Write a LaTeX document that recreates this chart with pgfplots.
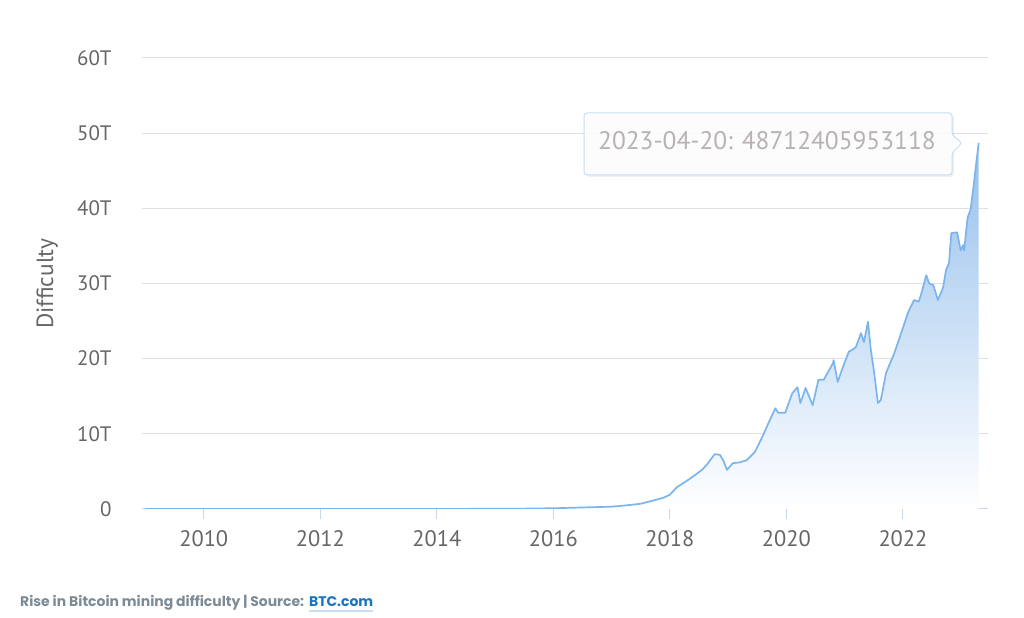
\documentclass[border=0pt]{standalone}
\usepackage{pgfplots}
\usepackage{pgfplotstable}
\pgfplotsset{compat=1.18}
\usepackage{fontspec}
\setmainfont{PT Sans}
\newfontfamily\capfont{Poppins}
\definecolor{lineblue}{HTML}{7CB5EC}
\definecolor{filltop}{HTML}{96C0EC}
\definecolor{gridgray}{HTML}{E0E0E0}
\definecolor{axisblue}{HTML}{CCD6EB}
\definecolor{labelgray}{HTML}{666666}
\definecolor{capgray}{HTML}{7D8B96}
\definecolor{capblue}{HTML}{1E73BE}
\definecolor{ttborder}{HTML}{C8DDF3}
\definecolor{tttext}{HTML}{B8B2B2}

\pgfplotstableread{
year diff
2009.00 0
2010.00 0
2011.00 0.00001
2012.00 0.0000015
2013.00 0.0000034
2013.50 0.00003
2014.00 0.0014
2014.50 0.017
2015.00 0.044
2015.50 0.05
2016.00 0.10
2016.50 0.20
2017.00 0.31
2017.25 0.48
2017.50 0.70
2017.70 1.1
2017.89 1.5
2018.00 1.9
2018.12 2.9
2018.34 4.0
2018.55 5.2
2018.63 5.85
2018.77 7.3
2018.86 7.2
2018.92 6.4
2018.98 5.2
2019.08 6.1
2019.20 6.2
2019.32 6.5
2019.46 7.6
2019.60 9.8
2019.69 11.4
2019.81 13.4
2019.86 12.8
2019.98 12.8
2020.10 15.4
2020.19 16.2
2020.24 14.1
2020.33 16.1
2020.45 13.8
2020.55 17.2
2020.64 17.2
2020.80 19.4
2020.81 19.8
2020.88 16.9
2020.97 18.9
2021.07 20.9
2021.19 21.5
2021.28 23.4
2021.33 22.2
2021.40 24.9
2021.45 21.1
2021.50 18.5
2021.57 14.1
2021.62 14.5
2021.71 18.1
2021.85 20.7
2022.00 24.1
2022.09 26.2
2022.19 27.8
2022.27 27.6
2022.31 28.5
2022.40 31.1
2022.45 30.0
2022.52 29.8
2022.60 27.8
2022.69 29.5
2022.74 31.8
2022.79 32.7
2022.83 36.7
2022.93 36.8
2022.99 34.4
2023.03 35.1
2023.05 34.4
2023.11 38.8
2023.16 39.8
2023.21 42.8
2023.25 45.5
2023.30 48.71
}\difftable

\begin{document}
\begin{tikzpicture}[x=1bp,y=1bp]
\path[use as bounding box, fill=white] (0,0) rectangle (1024,618);
\begin{axis}[
  at={(142bp,109bp)}, anchor=south west,
  scale only axis, width=846bp, height=451bp,
  xmin=2008.94, xmax=2023.46, ymin=0, ymax=60,
  axis lines*=left,
  x axis line style={draw=axisblue, line width=1bp},
  y axis line style={draw=none},
  ytick={0,10,...,60}, yticklabels={0,10T,20T,30T,40T,50T,60T},
  xtick={2010,2012,...,2022},
  xticklabels={2010,2012,2014,2016,2018,2020,2022},
  ymajorgrids, grid style={gridgray, line width=1bp},
  tick label style={font=\fontsize{21}{23}\selectfont, text=labelgray},
  xticklabel style={font=\fontsize{22.5}{24}\selectfont, yshift=-8bp},
  ytick style={draw=none},
  xtick style={draw=axisblue, line width=1bp},
  tick align=outside, major tick length=10bp,
  yticklabel style={xshift=-17bp},
  ylabel={Difficulty},
  every axis y label/.style={at={(axis description cs:-0.112,0.5)}, rotate=90, anchor=center, font=\fontsize{23.5}{25}\selectfont, text=labelgray},
]
\addplot[draw=none, top color=filltop, bottom color=white] table[x=year,y=diff] {\difftable} \closedcycle;
\addplot[lineblue, line width=1.7bp, line join=round] table[x=year,y=diff] {\difftable};
\end{axis}
% tooltip
\fill[black, opacity=0.06, rounded corners=3bp] (586,503) -- (954,503) -- (954,441) -- (586,441) -- cycle;
\draw[ttborder, fill=white, fill opacity=0.85, line width=1bp, rounded corners=3bp] (584,505) -- (952,505) -- (952,483) -- (962,475) -- (952,465) -- (952,443) -- (584,443) -- cycle;
\node[anchor=base west, text=tttext, font=\fontsize{25.5}{27}\selectfont, inner sep=0pt] at (598,468) {2023-04-20: 48712405953118};
% caption
\node[anchor=base west, inner sep=0pt, font=\capfont\bfseries\fontsize{14}{16}\selectfont, text=capgray] (c1) at (20,11) {Rise in Bitcoin mining difficulty | Source:};
\node[anchor=base west, inner sep=0pt, font=\capfont\bfseries\fontsize{14}{16}\selectfont, text=capblue] (c2) at ([xshift=4.5bp]c1.base east) {BTC.com};
\draw[ttborder, line width=1.2bp] ([yshift=-4bp]c2.base west) -- ([yshift=-4bp]c2.base east);
\end{tikzpicture}
\end{document}
